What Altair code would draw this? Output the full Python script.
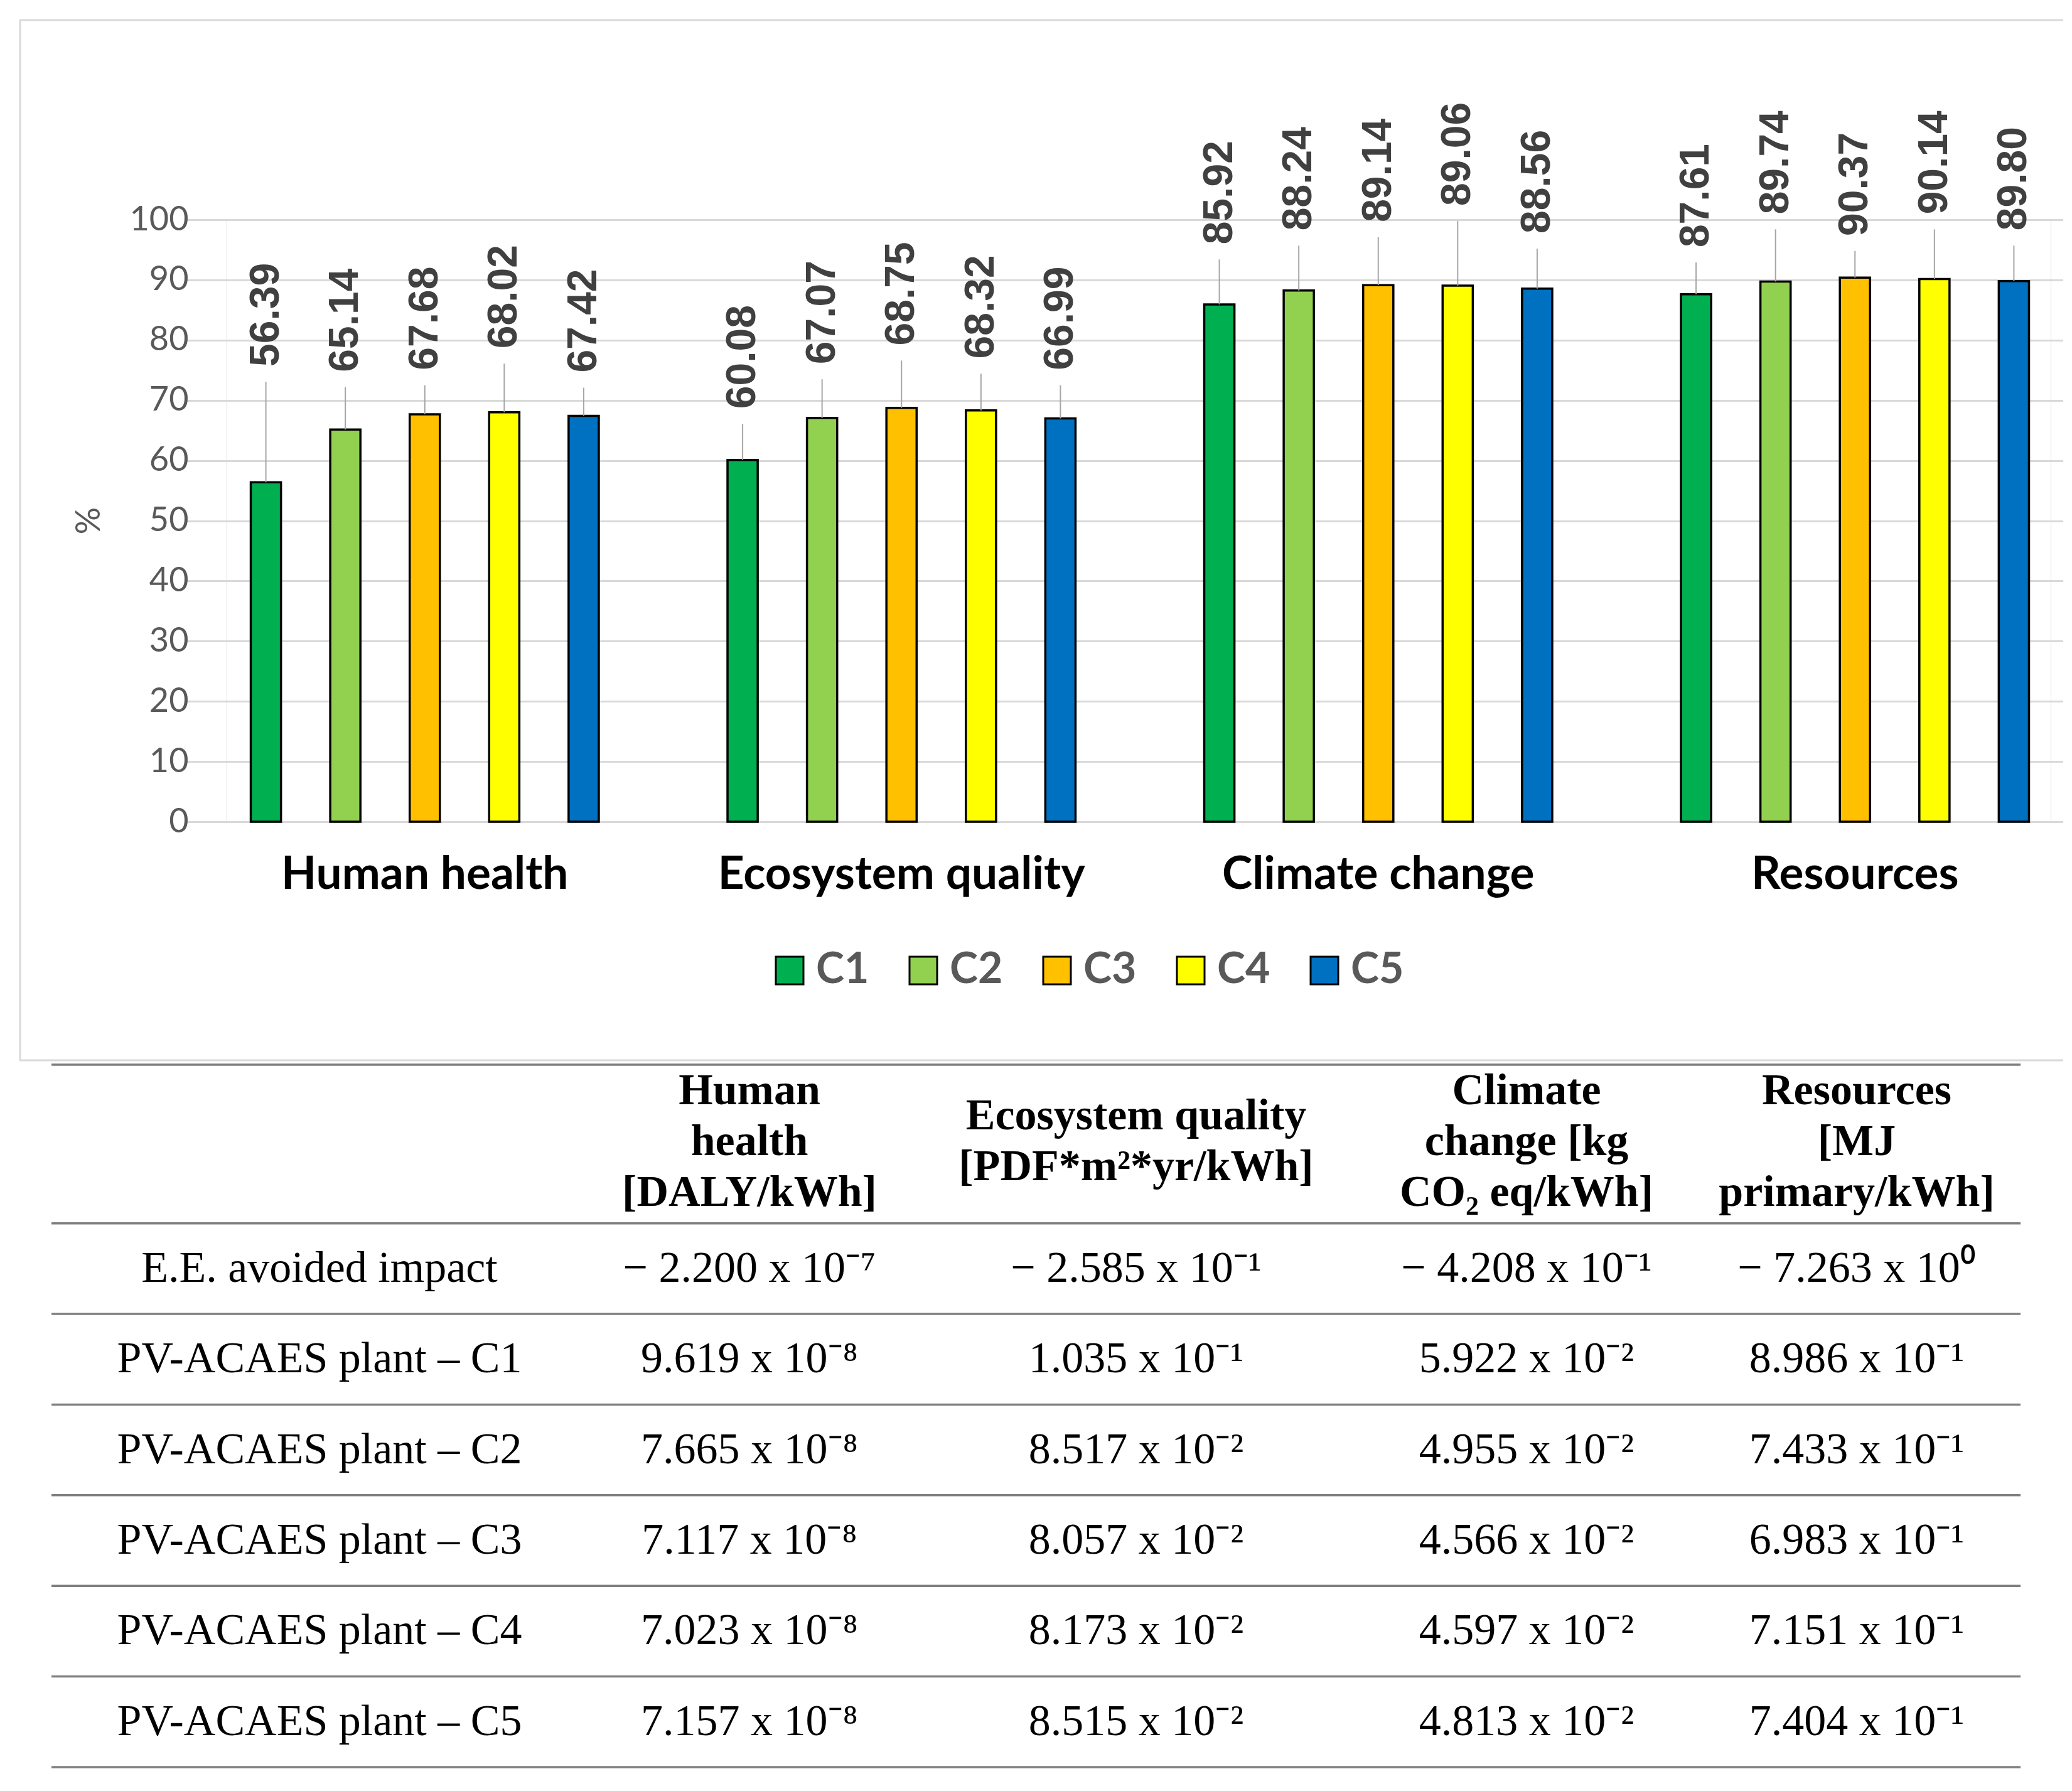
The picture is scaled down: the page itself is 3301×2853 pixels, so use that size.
import altair as alt
import pandas as pd

# ---------------- data ----------------
categories = ["Human health", "Ecosystem quality", "Climate change", "Resources"]
series = ["C1", "C2", "C3", "C4", "C5"]
colors = ["#00B050", "#92D050", "#FFC000", "#FFFF00", "#0070C0"]

hh_values = [56.39, 65.14, 67.68, 68.02, 67.42]
eq_values = [60.08, 67.07, 68.75, 68.32, 66.99]
cc_values = [85.92, 88.24, 89.14, 89.06, 88.56]
res_values = [87.61, 89.74, 90.37, 90.14, 89.80]

# where each data label starts (in % units), as placed in the original
hh_label_y = [75.6, 74.7, 75.0, 78.6, 74.6]
eq_label_y = [68.6, 76.0, 79.1, 76.9, 75.0]
cc_label_y = [95.9, 98.2, 99.6, 102.3, 97.7]
res_label_y = [95.4, 100.9, 97.3, 100.9, 98.2]

y_ticks = [0, 10, 20, 30, 40, 50, 60, 70, 80, 90, 100]

table_rows = ["E.E. avoided impact", "PV-ACAES plant – C1", "PV-ACAES plant – C2",
              "PV-ACAES plant – C3", "PV-ACAES plant – C4", "PV-ACAES plant – C5"]
table_headers = [[], ["Human", "health", "[DALY/kWh]"], ["Ecosystem quality", "[PDF*m²*yr/kWh]"],
                 ["Climate", "change [kg", "CO₂ eq/kWh]"], ["Resources", "[MJ", "primary/kWh]"]]
col_hh = ["− 2.200 x 10⁻⁷", "9.619 x 10⁻⁸", "7.665 x 10⁻⁸", "7.117 x 10⁻⁸", "7.023 x 10⁻⁸", "7.157 x 10⁻⁸"]
col_eq = ["− 2.585 x 10⁻¹", "1.035 x 10⁻¹", "8.517 x 10⁻²", "8.057 x 10⁻²", "8.173 x 10⁻²", "8.515 x 10⁻²"]
col_cc = ["− 4.208 x 10⁻¹", "5.922 x 10⁻²", "4.955 x 10⁻²", "4.566 x 10⁻²", "4.597 x 10⁻²", "4.813 x 10⁻²"]
col_res = ["− 7.263 x 10⁰", "8.986 x 10⁻¹", "7.433 x 10⁻¹", "6.983 x 10⁻¹", "7.151 x 10⁻¹", "7.404 x 10⁻¹"]

# ---------------- build tables ----------------
vals = [hh_values, eq_values, cc_values, res_values]
labs = [hh_label_y, eq_label_y, cc_label_y, res_label_y]
bar_rows = []
for ci, cat in enumerate(categories):
    for si, s in enumerate(series):
        bar_rows.append({"category": cat, "series": s, "value": vals[ci][si], "label_y": labs[ci][si]})
bars_df = pd.DataFrame(bar_rows)

cols = [table_rows, col_hh, col_eq, col_cc, col_res]
cell_rows = []
for r in range(len(table_rows)):
    for c in range(len(cols)):
        cell_rows.append({"row": r, "col": c, "text": cols[c][r]})
cells_df = pd.DataFrame(cell_rows)

HEADER_ROW = -1.4      # centre of the header block, in table-row units
LINE_STEP = 0.56       # header line spacing, in table-row units
TABLE_TOP = -2.25
hdr = []
for c, lines in enumerate(table_headers):
    n = len(lines)
    for i, t in enumerate(lines):
        hdr.append({"row": HEADER_ROW + (i - (n - 1) / 2) * LINE_STEP, "col": c, "text": t})
header_df = pd.DataFrame(hdr)
rule_pos = [TABLE_TOP] + [r - 0.5 for r in range(len(table_rows) + 1)]
rules_df = pd.DataFrame({"pos": rule_pos})

# ---------------- chart ----------------
W, H = 2906, 959

x_enc = alt.X("category:N", sort=categories,
              scale=alt.Scale(domain=categories, range=[-64, 2974], paddingInner=0, paddingOuter=0),
              axis=alt.Axis(title=None, labelAngle=0, labelFont="Lato", labelFontWeight="bold",
                            labelFontSize=73, labelColor="black", labelPadding=48, labelLimit=0,
                            ticks=False, domain=False, grid=False))
xo_enc = alt.XOffset("series:N", sort=series,
                     scale=alt.Scale(domain=series, paddingInner=0.62, paddingOuter=0.81))
yscale = alt.Scale(domain=[0, 100], nice=False, zero=True)
yaxis = alt.Axis(title="%", values=y_ticks, grid=True, gridColor="#d9d9d9", gridWidth=3,
                 domain=False, ticks=False, labelFont="Lato", labelFontSize=54,
                 labelColor="#595959", labelPadding=61,
                 titleFont="Lato", titleFontSize=54, titleFontWeight="normal",
                 titleColor="#595959", titleAngle=270, titleX=-219, titleY=479,
                 titleAlign="center", titleBaseline="middle")

box = alt.Chart(pd.DataFrame({"a": [0]})).mark_rect(
    fillOpacity=0, stroke="#d9d9d9", strokeWidth=3
).encode(x=alt.value(-329), x2=alt.value(3100), y=alt.value(-318), y2=alt.value(1339))

base = alt.Chart(bars_df).encode(x=x_enc, xOffset=xo_enc)

bars = base.mark_bar(stroke="black", strokeWidth=3.5).encode(
    y=alt.Y("value:Q", scale=yscale, axis=yaxis),
    color=alt.Color("series:N", sort=series, scale=alt.Scale(domain=series, range=colors),
                    legend=alt.Legend(title=None, orient="none", legendX=863, legendY=1162,
                                      direction="horizontal", symbolType="square",
                                      symbolSize=1936, symbolStrokeColor="black",
                                      symbolStrokeWidth=3, symbolOpacity=1,
                                      labelFont="Lato", labelFontWeight="bold",
                                      labelFontSize=68, labelColor="#595959",
                                      labelOffset=8, columnPadding=52))
)

leaders = base.mark_rule(color="#a6a6a6", strokeWidth=2, y2Offset=24).encode(
    y=alt.Y("value:Q", scale=yscale, axis=yaxis),
    y2="label_y:Q",
)

labels = base.mark_text(angle=270, align="left", baseline="middle", font="Liberation Sans",
                        fontWeight="bold", fontSize=66, color="#404040").encode(
    y=alt.Y("label_y:Q", scale=yscale, axis=yaxis),
    text=alt.Text("value:Q", format=".2f"),
)

main = alt.layer(box, bars, leaders, labels)

tx = alt.Scale(type="linear", domain=[0, 1, 2, 3, 4], range=[148, 833, 1449, 2071, 2597],
               nice=False, zero=False)
ty = alt.Scale(type="linear", domain=[TABLE_TOP, 5.5], range=[1346, 2465], nice=False, zero=False)

t_rules = alt.Chart(rules_df).mark_rule(color="#7f7f7f", strokeWidth=3.5).encode(
    x=alt.value(-279), x2=alt.value(2858),
    y=alt.Y("pos:Q", scale=ty, axis=None),
)
t_header = alt.Chart(header_df).mark_text(font="Liberation Serif", fontWeight="bold", fontSize=70,
                                          baseline="middle", align="center", color="black").encode(
    x=alt.X("col:Q", scale=tx, axis=None),
    y=alt.Y("row:Q", scale=ty, axis=None),
    text="text:N",
)
t_cells = alt.Chart(cells_df).mark_text(font="Liberation Serif", fontSize=70, baseline="middle",
                                        align="center", color="black").encode(
    x=alt.X("col:Q", scale=tx, axis=None),
    y=alt.Y("row:Q", scale=ty, axis=None),
    text="text:N",
)
table = alt.layer(t_rules, t_header, t_cells)

chart = alt.layer(main, table).resolve_scale(x="independent", y="independent").properties(
    width=W, height=H,
    autosize=alt.AutoSizeParams(type="none"),
    padding={"left": 353, "top": 342, "right": 20, "bottom": 1530},
).configure_view(stroke=None).configure(background="white")

chart.save("out.html", embed_options={"renderer": "svg", "actions": False})
